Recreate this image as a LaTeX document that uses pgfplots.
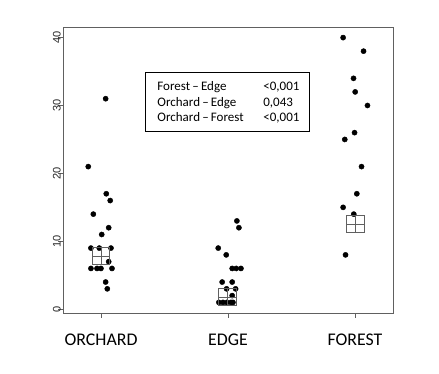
\documentclass[border=0pt]{standalone}
\usepackage{pgfplots}
\pgfplotsset{compat=1.18}
\usepackage{fontspec}
\setmainfont{Liberation Sans}
\newfontfamily\calib{Carlito}
\definecolor{axgray}{HTML}{606060}
\begin{document}
\begin{tikzpicture}
\begin{axis}[
  at={(63bp,61bp)}, anchor=south west,
  scale only axis, width=330bp, height=286bp,
  xmin=0.7, xmax=3.3, ymin=-0.56, ymax=41.56,
  axis line style={axgray, line width=0.8bp},
  xtick={1,2,3}, xticklabels={ORCHARD,EDGE,FOREST},
  ytick={0,10,20,30,40},
  tick align=outside, tick pos=left,
  major tick length=5bp,
  tick style={axgray, line width=0.8bp},
  xticklabel style={font=\calib\fontsize{17.8bp}{20bp}\selectfont, anchor=base, inner sep=0pt, yshift=-27bp},
  yticklabel shift=-3bp,
  yticklabel style={font=\fontsize{11bp}{13bp}\selectfont, text=black!85, rotate=90, anchor=south, inner sep=0pt},
  /pgf/number format/assume math mode=true,
  clip=false,
]
\addplot[only marks, mark=*, mark size=2.6bp, black] coordinates {
(1.036,31)(0.899,21)(1.041,17)(1.072,16)(0.939,14)(1.060,12)(1.005,11)
(0.920,9)(0.986,9)(1.078,9)(1.060,7)(0.920,6)(0.968,6)(0.999,6)(1.086,6)
(1.036,4)(1.049,3)
};
\addplot[only marks, mark=*, mark size=2.6bp, black] coordinates {
(2.070,13)(2.086,12)(1.923,9)(1.986,8)(2.033,6)(2.065,6)(2.102,6)
(1.954,4)(2.033,4)(1.989,3)(2.060,3)(2.033,2)
(1.928,1)(1.960,1)(1.991,1)(2.023,1)(2.039,1)
};
\addplot[only marks, mark=*, mark size=2.6bp, black] coordinates {
(2.907,40)(3.068,38)(2.989,34)(3.002,32)(3.099,30)(2.997,26)(2.920,25)
(3.052,21)(3.015,17)(2.907,15)(2.991,14)(2.926,8)
};
\addplot[only marks, mark=square, mark size=8.75bp, axgray, mark options={line width=0.9bp}] coordinates {
(0.999,7.84)(1.994,1.8)(3.005,12.55)
};
\addplot[only marks, mark=+, mark size=8.75bp, axgray, mark options={line width=0.9bp}] coordinates {
(0.999,7.84)(1.994,1.8)(3.005,12.55)
};
\draw[black, line width=0.8bp] (axis cs:1.346,26.2) rectangle (axis cs:2.645,34.9);
\begin{scope}[every node/.style={font=\calib\fontsize{13bp}{15.5bp}\selectfont, inner sep=0pt, anchor=base west}]
\node at (axis cs:1.4425,32.2) {Forest\,–\,Edge};
\node at (axis cs:1.4425,29.9) {Orchard\,–\,Edge};
\node at (axis cs:1.4425,27.65) {Orchard\,–\,Forest};
\node at (axis cs:2.277,32.2) {<0,001};
\node at (axis cs:2.277,29.9) {0,043};
\node at (axis cs:2.277,27.65) {<0,001};
\end{scope}
\end{axis}
\pgfresetboundingbox
\path[use as bounding box] (0,0) rectangle (439bp,374bp);
\end{tikzpicture}
\end{document}
